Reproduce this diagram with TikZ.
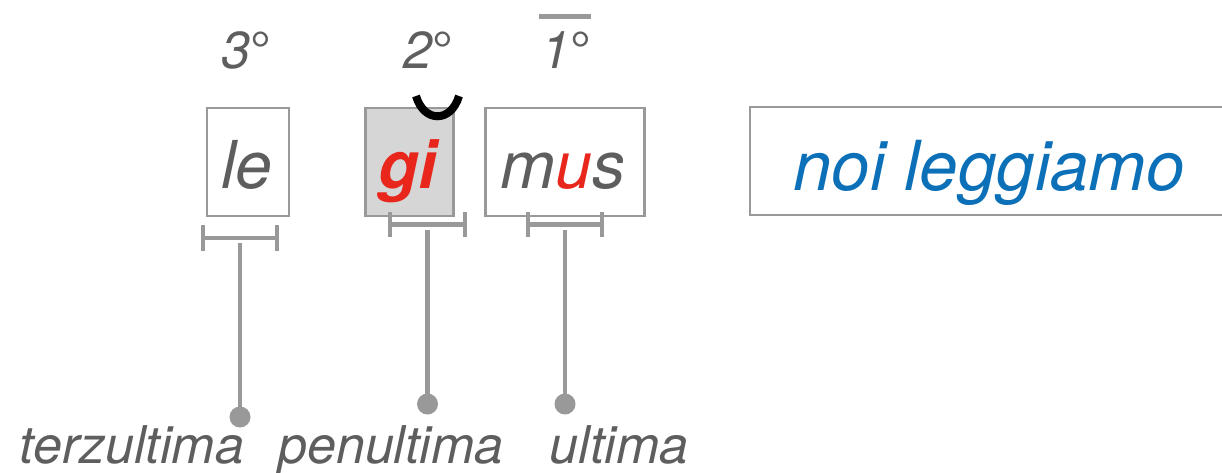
\documentclass[tikz,border=0pt]{standalone}
\usepackage{fontspec}
\setmainfont{TeX Gyre Heros}
\definecolor{txtgray}{HTML}{5E5E5E}
\definecolor{linegray}{HTML}{999999}
\definecolor{boxfill}{HTML}{D6D6D6}
\definecolor{accred}{HTML}{E8261C}
\definecolor{accblue}{HTML}{0B70B7}
\newcommand{\degr}{{\upshape °}}
\begin{document}
\begin{tikzpicture}[x=1pt,y=-1pt,
  syl/.style={draw=linegray,line width=2.2pt,inner sep=0pt,minimum height=108pt},
  word/.style={font=\fontsize{66}{66}\selectfont\itshape,text=txtgray,inner sep=0pt,anchor=base},
  num/.style={font=\fontsize{52}{52}\selectfont\itshape,text=txtgray,inner sep=0pt,anchor=base},
  lab/.style={font=\fontsize{52}{52}\selectfont\itshape,text=txtgray,inner sep=0pt,anchor=base},
  bracket/.style={draw=linegray,line width=4.5pt},
  stem/.style={draw=linegray,line width=4.5pt},
  dot/.style={circle,fill=linegray,inner sep=0pt,minimum size=21pt}]
\clip (0,0) rectangle (1222,472);
\fill[white] (0,0) rectangle (1222,472);
% syllable boxes
\node[syl,minimum width=82pt] (ble) at (248,162) {};
\node[syl,minimum width=88pt,fill=boxfill] (bgi) at (409.5,162) {};
\node[syl,minimum width=159pt] (bmus) at (565,162) {};
\node[syl,minimum width=500pt,anchor=west] (bnoi) at (749,161) {};
% syllable texts
\node[word] (tle) at (247,188) {le};
\node[word,text=accred,font=\fontsize{66}{66}\selectfont\bfseries\itshape] (tgi) at (408,188) {gi};
\node[word] (tmus) at (563,188) {m\textcolor{accred}{u}s};
\node[word,text=accblue,font=\fontsize{69}{69}\selectfont\itshape] (tnoi) at (989,190) {noi leggiamo};
% position numbers
\node[num] (n3) at (246,68) {3\degr};
\node[num] (n2) at (428,68) {2\degr};
\node[num] (n1) at (566,68) {1\degr};
\coordinate (ovl) at (539,16);
\coordinate (ovr) at (591,16);
\draw[linegray,line width=5pt] (ovl) -- (ovr);
% breve
\coordinate (brl) at (416,96);
\coordinate (brr) at (459,96);
\draw[black,line width=8pt] (brl) .. controls (424,123) and (451,123) .. (brr);
% brackets
\coordinate (k1l) at (203,238); \coordinate (k1r) at (277,238);
\draw[bracket] (203,225) -- (203,251) (k1l) -- (k1r) (277,225) -- (277,251);
\coordinate (k2l) at (390,224.5); \coordinate (k2r) at (465,224.5);
\draw[bracket] (390,212) -- (390,237) (k2l) -- (k2r) (465,212) -- (465,237);
\coordinate (k3l) at (528,224.5); \coordinate (k3r) at (602,224.5);
\draw[bracket] (528,212) -- (528,237) (k3l) -- (k3r) (602,212) -- (602,237);
% stems and dots
\coordinate (s1) at (240,243);
\coordinate (s2) at (427.5,230);
\coordinate (s3) at (565,230);
\node[dot] (d1) at (240,417) {};
\node[dot] (d2) at (427.5,404) {};
\node[dot] (d3) at (565,404) {};
\draw[stem] (s1) -- (d1.center);
\draw[stem] (s2) -- (d2.center);
\draw[stem] (s3) -- (d3.center);
% labels
\node[lab] (l1) at (132,463) {terzultima};
\node[lab] (l2) at (391,463) {penultima};
\node[lab] (l3) at (619,463) {ultima};
\end{tikzpicture}
\end{document}
